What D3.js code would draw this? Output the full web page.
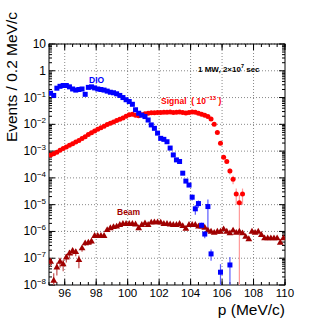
<!DOCTYPE html>
<html lang="en">
<head>
<meta charset="UTF-8">
<title>DIO / Signal / Beam</title>
<style>
  body { margin: 0; background: #fff; }
  text { font-family: "Liberation Sans", Arial, sans-serif; }
</style>
</head>
<body>
<div class="canvas"></div>
<script src="https://cdnjs.cloudflare.com/ajax/libs/d3/7.8.5/d3.min.js"></script>
<script>
// momentum bins, 0.2 MeV/c wide, centres 95.1 ... 109.9
const bins = d3.range(75).map(i => +(95.1 + 0.2 * i).toFixed(1));

// DIO (blue squares), null = empty bin
const dio = [0.145, 0.12, 0.224, 0.263, 0.282, 0.282, 0.251, 0.209, 0.19, 0.2,
  0.209, 0.132, 0.24, 0.251, 0.229, 0.209, 0.2, 0.19, 0.174, 0.158,
  0.151, 0.138, 0.12, 0.1, 0.083, 0.071, 0.056, 0.035, 0.026, 0.022,
  0.0195, 0.0145, 0.0095, 0.0071, 0.0047, 0.003, 0.00275, 0.00224, 0.0013, 7.2e-4,
  4.7e-4, 4.1e-4, 1.5e-4, 7.6e-5, 5.4e-5, 1.9e-5, 7e-6, 1.1e-5, 1.7e-6, 8e-7,
  8.5e-6, 1.45e-7, null, null, 3e-8, null, null, 5.6e-8];
// relative errors of DIO (only where the bar shows)
const dioErr = {42: 0.1, 43: 0.15, 44: 0.15, 45: 0.25, 46: 0.4, 47: 0.3, 48: 0.25,
  49: 0.3, 50: 0.85, 51: 0.45, 54: 1.0, 57: 1.0};

// signal, scaled to BR 1e-13 (red circles)
const signal = [7.1e-4, 7.9e-4, 9.1e-4, 1.07e-3, 1.26e-3, 1.41e-3, 1.66e-3, 1.9e-3, 2.19e-3, 2.5e-3,
  2.95e-3, 3.47e-3, 4.17e-3, 4.9e-3, 5.6e-3, 6.5e-3, 7.4e-3, 8.5e-3, 9.8e-3, 0.011,
  0.0123, 0.0138, 0.0155, 0.0174, 0.02, 0.0229, 0.024, 0.0219, 0.0209, 0.0229,
  0.0251, 0.0257, 0.0269, 0.0269, 0.0275, 0.0275, 0.0282, 0.0282, 0.0288, 0.0275,
  0.0282, 0.0288, 0.0275, 0.0263, 0.0275, 0.0288, 0.0282, 0.0257, 0.024, 0.0219,
  0.0195, 0.0158, 0.01, 0.005, 0.00195, 5.9e-4, 4.1e-4, 1.8e-4, 8.9e-5, 2.5e-5,
  1.17e-5, 2.5e-5];
const signalErr = {55: 0.1, 56: 0.15, 57: 0.25, 58: 0.35, 59: 0.6, 60: 1.0, 61: 0.6};

// beam related background (dark red triangles)
const beam = [7.4e-8, 1.45e-8, 4.5e-8, 7.4e-8, 5.9e-8, 1.07e-7, 1.5e-7, 1.86e-7, 1.7e-7, 8.5e-8,
  2.34e-7, 3.6e-7, 3.8e-7, 4.2e-7, 6.8e-7, 6.8e-7, 6.8e-7, 6.8e-7, 1.12e-6, 1.32e-6,
  1.45e-6, 1.51e-6, 1.74e-6, 1.9e-6, 1.9e-6, 1.9e-6, 1.9e-6, 1.82e-6, 1.32e-6, 1.74e-6,
  2.0e-6, 1.74e-6, 2.14e-6, 2.19e-6, 2.19e-6, 2.14e-6, 1.9e-6, 1.9e-6, 1.82e-6, 1.74e-6,
  1.74e-6, 1.9e-6, 1.58e-6, 1.26e-6, 1.74e-6, 1.74e-6, 1.74e-6, 1.51e-6, 1.51e-6, 1.38e-6,
  1.07e-6, 9.8e-7, 8.9e-7, 9.8e-7, 9.8e-7, 1.2e-6, 9.8e-7, 8.5e-7, 1.07e-6, 8.9e-7,
  9.8e-7, 8.5e-7, 6.3e-7, 5.1e-7, 9.8e-7, 8.9e-7, 9.8e-7, 7.4e-7, 5.5e-7, 5.5e-7,
  5.5e-7, 5.5e-7, 5.5e-7, 3.8e-7, 5.5e-7];
const beamErr = [0.35, 0.9, 0.5, 0.4, 0.45, 0.35, 0.35, 0.3, 0.3, 0.5,
  0.25, 0.2, 0.2, 0.2, 0.15, 0.15, 0.15, 0.15, 0.12, 0.12];

const xMajor = d3.range(96, 110.1, 2);
const xMinor = d3.range(95, 110.01, 0.5);
const yExp = d3.range(-8, 2);   // decades 1e-8 ... 10

const W = 332, H = 320;
const margin = {top: 44, right: 47, bottom: 35, left: 49};

const svg = d3.select('.canvas')
  .append('svg')
    .attr('width', W)
    .attr('height', H);

const x = d3.scaleLinear().domain([95, 110]).range([margin.left, W - margin.right]);
const y = d3.scaleLog().domain([1e-8, 10]).range([H - margin.bottom, margin.top]);
const [x0, x1] = x.range();
const [y0, y1] = y.range();

// grid
const grid = svg.append('g')
  .attr('stroke', '#555')
  .attr('stroke-width', 0.7)
  .attr('stroke-dasharray', '1,2');
grid.selectAll('.gx').data(xMajor.filter(d => d < 110)).enter().append('line')
  .attr('x1', d => x(d)).attr('x2', d => x(d)).attr('y1', y0).attr('y2', y1);
grid.selectAll('.gy').data(yExp.filter(e => e > -8)).enter().append('line')
  .attr('y1', e => y(Math.pow(10, e))).attr('y2', e => y(Math.pow(10, e)))
  .attr('x1', x0).attr('x2', x1);

// ticks on all four sides, pointing inward
const tickG = svg.append('g').attr('stroke', '#000').attr('stroke-width', 1);
function xTicks(vals, len) {
  vals.forEach(v => {
    tickG.append('line').attr('x1', x(v)).attr('x2', x(v)).attr('y1', y0).attr('y2', y0 - len);
    tickG.append('line').attr('x1', x(v)).attr('x2', x(v)).attr('y1', y1).attr('y2', y1 + len);
  });
}
xTicks(xMinor, 3);
xTicks(xMajor, 6);

const yMinor = [];
yExp.slice(0, -1).forEach(e => d3.range(2, 10).forEach(m => yMinor.push(m * Math.pow(10, e))));
function yTicks(vals, len) {
  vals.forEach(v => {
    tickG.append('line').attr('y1', y(v)).attr('y2', y(v)).attr('x1', x0).attr('x2', x0 + len);
    tickG.append('line').attr('y1', y(v)).attr('y2', y(v)).attr('x1', x1).attr('x2', x1 - len);
  });
}
yTicks(yMinor, 3);
yTicks(yExp.map(e => Math.pow(10, e)), 6);

// frame
svg.append('rect')
  .attr('x', x0).attr('y', y1)
  .attr('width', x1 - x0).attr('height', y0 - y1)
  .attr('fill', 'none').attr('stroke', '#000').attr('stroke-width', 1);

// x tick labels
svg.selectAll('.xl').data(xMajor).enter().append('text')
  .attr('x', d => x(d)).attr('y', y0 + 12)
  .attr('text-anchor', 'middle')
  .attr('font-size', 11.5)
  .text(d => d);

// y tick labels
yExp.forEach(e => {
  const t = svg.append('text')
    .attr('x', x0 - 3).attr('y', y(Math.pow(10, e)) + 4)
    .attr('text-anchor', 'end')
    .attr('font-size', 12);
  if (e === 0) t.text('1');
  else if (e === 1) t.text('10');
  else {
    t.append('tspan').text('10');
    t.append('tspan').attr('font-size', 8).attr('dy', -5).text('\u2212' + (-e));
  }
});

// axis titles
svg.append('text')
  .attr('transform', `translate(17, 12) rotate(-90)`)
  .attr('text-anchor', 'end')
  .attr('font-size', 15.5)
  .text('Events / 0.2 MeV/c');

svg.append('text')
  .attr('x', x1).attr('y', 315)
  .attr('text-anchor', 'end')
  .attr('font-size', 15.5)
  .text('p (MeV/c)');

// series drawing
svg.append('clipPath').attr('id', 'plot')
  .append('rect').attr('x', x0).attr('y', y1).attr('width', x1 - x0).attr('height', y0 - y1);
const plot = svg.append('g').attr('clip-path', 'url(#plot)');

function errorBars(vals, errs, color) {
  vals.forEach((v, i) => {
    const e = errs[i];
    if (v == null || e == null) return;
    const lo = v * (1 - e) > 1e-9 ? v * (1 - e) : 1e-9;
    plot.append('line')
      .attr('x1', x(bins[i])).attr('x2', x(bins[i]))
      .attr('y1', y(v * (1 + e))).attr('y2', y(lo))
      .attr('stroke', color).attr('stroke-width', 1.2);
  });
}

errorBars(beam, beamErr, '#c05050');
errorBars(signal, signalErr, '#ff9a9a');
errorBars(dio, dioErr, '#5a5aff');

const beamPts = beam.map((v, i) => ({p: bins[i], v}));
plot.selectAll('.beam').data(beamPts).enter().append('path')
  .attr('d', d3.symbol().type(d3.symbolTriangle).size(20))
  .attr('transform', d => `translate(${x(d.p)}, ${y(d.v)})`)
  .attr('fill', '#a00000');

const sigPts = signal.map((v, i) => ({p: bins[i], v}));
plot.selectAll('.sig').data(sigPts).enter().append('circle')
  .attr('cx', d => x(d.p)).attr('cy', d => y(d.v))
  .attr('r', 2.5)
  .attr('fill', '#ff0000');

const dioPts = dio.map((v, i) => ({p: bins[i], v})).filter(d => d.v != null);
plot.selectAll('.dio').data(dioPts).enter().append('rect')
  .attr('x', d => x(d.p) - 2.5).attr('y', d => y(d.v) - 2.5)
  .attr('width', 5).attr('height', 5)
  .attr('fill', '#0000ff');

// labels in the plot
svg.append('text')
  .attr('x', 89).attr('y', 83)
  .attr('font-size', 8.5).attr('font-weight', 'bold')
  .attr('fill', '#0000ff')
  .text('DIO');

const sigLabel = svg.append('text')
  .attr('x', 161).attr('y', 104)
  .attr('font-size', 8.5).attr('font-weight', 'bold')
  .attr('fill', '#ff0000')
  .attr('xml:space', 'preserve');
sigLabel.append('tspan').text('Signal  ( 10');
sigLabel.append('tspan').attr('font-size', 6).attr('dy', -4).text('\u221213');
sigLabel.append('tspan').attr('dy', 4).text(' )');

const run = svg.append('text')
  .attr('x', 198).attr('y', 72)
  .attr('font-size', 8).attr('font-weight', 'bold')
  .attr('fill', '#000');
run.append('tspan').text('1 MW, 2\u00d710');
run.append('tspan').attr('font-size', 5.5).attr('dy', -4).text('7');
run.append('tspan').attr('dy', 4).text(' sec');

svg.append('text')
  .attr('x', 117).attr('y', 215)
  .attr('font-size', 8.5).attr('font-weight', 'bold')
  .attr('fill', '#a00000')
  .text('Beam');
</script>
</body>
</html>
